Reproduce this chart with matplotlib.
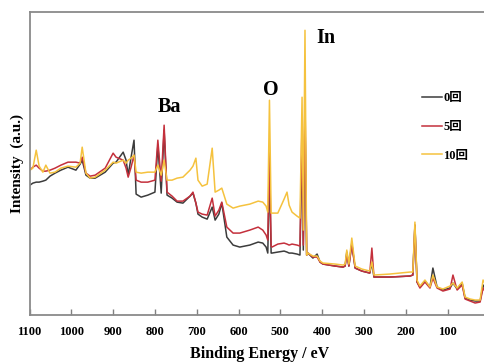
import matplotlib
matplotlib.use("Agg")
import matplotlib.pyplot as plt
import numpy as np

# Binding energy grid (eV) shared by the three spectra
energy = [1099, 1092, 1084, 1077, 1068, 1061, 1051, 1039, 1025, 1008, 989, 979, 974, 965, 955, 943,
          919, 900, 893, 876, 869, 864, 857, 850, 845, 833, 817, 800, 793, 785, 778, 771, 759, 747,
          733, 716, 709, 702, 697, 687, 675, 663, 656, 647, 640, 628, 613, 597, 573, 553, 542, 534,
          530, 526, 522, 520, 506, 491, 484, 479, 472, 460, 453, 448, 445, 441, 437, 434, 422, 412,
          405, 398, 369, 350, 345, 341, 336, 329, 321, 305, 286, 281, 276, 238, 190, 183, 178, 173,
          166, 154, 142, 135, 125, 111, 94, 87, 77, 65, 58, 46, 34, 22, 15, 8]

int_0 = [130, 132, 133, 133, 134, 135, 139, 142, 145, 148, 145, 151, 155, 140, 137, 137,
         143, 152, 153, 163, 155, 140, 158, 175, 121, 118, 120, 123, 170, 122, 185, 120, 117, 113,
         112, 119, 122, 112, 101, 98, 96, 108, 95, 101, 112, 78, 70, 68, 70, 73, 72, 68,
         62, 145, 62, 62, 63, 64, 63, 62, 62, 61, 60, 175, 65, 200, 60, 62, 57, 61,
         53, 51, 49, 48, 49, 63, 49, 72, 47, 44, 42, 52, 38, 38, 39, 40, 90, 33,
         28, 34, 28, 47, 28, 25, 27, 32, 26, 32, 17, 15, 14, 14, 30, 25]

int_5 = [145, 148, 150, 147, 144, 144, 145, 147, 150, 153, 153, 152, 158, 142, 139, 140,
         147, 162, 158, 155, 147, 138, 148, 160, 135, 133, 133, 135, 175, 134, 190, 123, 119, 114,
         114, 119, 123, 112, 103, 101, 100, 117, 99, 105, 113, 88, 82, 82, 85, 88, 85, 80,
         75, 165, 69, 68, 71, 72, 71, 70, 71, 70, 69, 195, 70, 220, 60, 62, 58, 58,
         53, 51, 49, 48, 49, 61, 49, 70, 47, 44, 42, 67, 38, 38, 39, 40, 90, 33,
         27, 33, 27, 37, 27, 24, 26, 40, 25, 30, 16, 14, 12, 13, 27, 22]

int_10 = [145, 147, 165, 149, 143, 150, 142, 143, 147, 149, 148, 152, 168, 142, 137, 138,
          145, 153, 152, 155, 152, 155, 157, 160, 143, 142, 143, 143, 150, 140, 155, 135, 135, 137,
          138, 145, 149, 157, 135, 129, 131, 167, 123, 125, 127, 111, 107, 109, 111, 114, 113, 109,
          103, 215, 102, 102, 102, 116, 123, 110, 103, 99, 97, 218, 85, 285, 60, 62, 59, 59,
          54, 52, 51, 50, 51, 65, 51, 77, 49, 46, 44, 53, 40, 41, 43, 43, 93, 35,
          29, 35, 28, 40, 28, 26, 29, 32, 27, 33, 18, 16, 15, 15, 35, 30]

series_labels = ["0回", "5回", "10回"]
series_colors = ["#3c3c3c", "#c4303c", "#f5c23e"]
peak_labels = [("Ba", 766, 203), ("O", 523, 220), ("In", 391, 272)]
xticks = list(range(0, 1101, 100))
xticklabels = [str(t) if t > 0 else "" for t in xticks]

plt.rcParams['font.family'] = ['Liberation Serif', 'Noto Sans CJK SC']
plt.rcParams['font.weight'] = 'bold'

fig = plt.figure(figsize=(4.84, 3.64), dpi=100)
ax = fig.add_axes([0.061, 0.1346, 0.950, 0.8316])

for vals, lab, col in zip([int_0, int_5, int_10], series_labels, series_colors):
    ax.plot(energy, vals, color=col, lw=1.1, label=lab)

ax.set_xlim(1100, 0)
ax.set_ylim(0, 303)
ax.set_xticks(xticks)
ax.set_xticklabels(xticklabels, fontsize=9, fontweight='bold')
ax.set_yticks([])
ax.tick_params(axis='x', direction='in', length=4, width=1, color='#808080', pad=8)
for s in ax.spines.values():
    s.set_color('#8a8a8a')
    s.set_linewidth(1.3)

ax.set_xlabel("Binding Energy / eV", fontsize=11.5, fontweight='bold', labelpad=6)
ax.set_ylabel("Intensity  (a.u.)", fontsize=11, fontweight='bold', labelpad=4)

for txt, xv, yv in peak_labels:
    ax.text(xv, yv, txt, fontsize=14.5, fontweight='heavy', ha='center', va='baseline')

leg = ax.legend(loc='upper left', bbox_to_anchor=(422 / 484, 1 - 92 / 364),
                bbox_transform=fig.transFigure, frameon=False, borderpad=0,
                borderaxespad=0, handlelength=1.6, handletextpad=0.1,
                labelspacing=1.35, prop={'size': 9, 'weight': 'bold'})

fig.savefig("out.png", dpi=100)
